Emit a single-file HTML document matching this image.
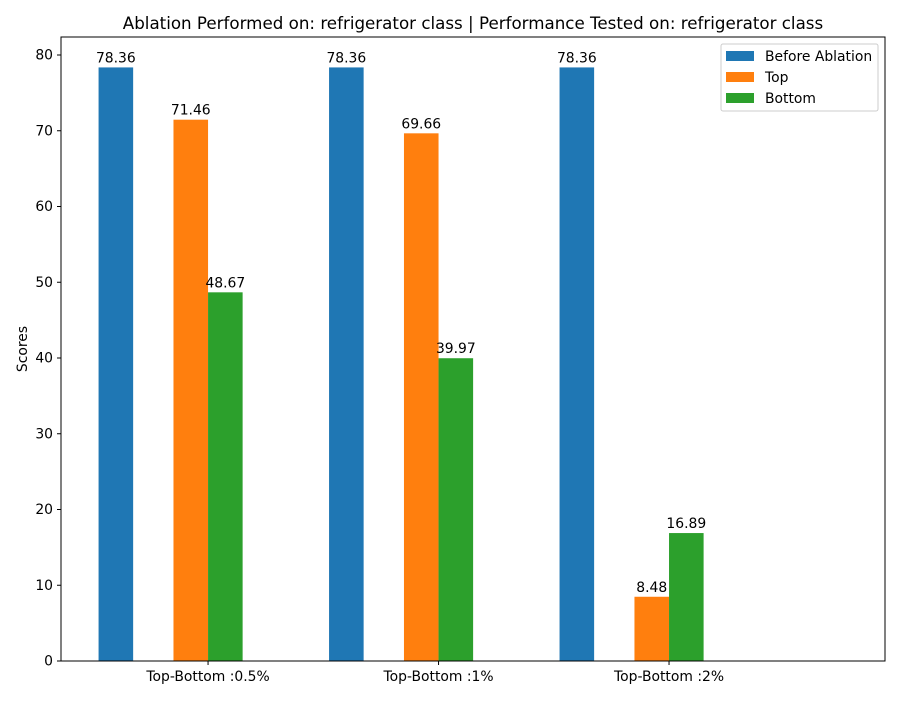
<!DOCTYPE html>
<html><head><meta charset="utf-8"><style>
body{margin:0;background:#fff}
svg text{font-family:"DejaVu Sans","Liberation Sans",sans-serif;fill:#000}
</style></head><body>
<svg id="chart" width="900" height="700" xmlns="http://www.w3.org/2000/svg">
<rect width="900" height="700" fill="#fff"/>
<text x="473" y="29" font-size="16.7" text-anchor="middle">Ablation Performed on: refrigerator class | Performance Tested on: refrigerator class</text>
<g id="bars"></g>
<g id="axes"></g>
<text transform="translate(27,349) rotate(-90)" font-size="13.9" text-anchor="middle">Scores</text>
<g>
<rect x="721" y="44" width="157" height="67" fill="#fff" stroke="#ccc" rx="2"/>
<rect x="726" y="51" width="28" height="10" fill="#1f77b4"/>
<text x="765" y="61" font-size="13.9">Before Ablation</text>
<rect x="726" y="72" width="28" height="10" fill="#ff7f0e"/>
<text x="765" y="82" font-size="13.9">Top</text>
<rect x="726" y="93" width="28" height="10" fill="#2ca02c"/>
<text x="765" y="103" font-size="13.9">Bottom</text>
</g>
</svg>
<script>
const categories = ["Top-Bottom :0.5%","Top-Bottom :1%","Top-Bottom :2%"];
const beforeValues = [78.36,78.36,78.36];
const topValues = [71.46,69.66,8.48];
const bottomValues = [48.67,39.97,16.89];
const yTicks = [0,10,20,30,40,50,60,70,80];

const L=61,R=885,T=37,B=661;
const xMin=-0.638,xMax=2.937,yMin=0,yMax=80;
const X=v=>L+(v-xMin)/(xMax-xMin)*(R-L);
const Y=v=>B-(v-yMin)/(yMax-yMin)*(B-55);
const bw=0.15;
const NS="http://www.w3.org/2000/svg";
const bars=document.getElementById('bars'), axes=document.getElementById('axes');
function mk(tag,attrs,parent){const e=document.createElementNS(NS,tag);for(const k in attrs)e.setAttribute(k,attrs[k]);parent.appendChild(e);return e;}
const series=[[beforeValues,"#1f77b4",-0.4,"before"],[topValues,"#ff7f0e",-0.075,"top"],[bottomValues,"#2ca02c",0.075,"bottom"]];
series.forEach(([vals,col,off,nm])=>{
  vals.forEach((v,i)=>{
    const x0=X(i+off-bw/2),x1=X(i+off+bw/2);
    const r=mk('rect',{x:x0,y:Y(v),width:x1-x0,height:Y(0)-Y(v),fill:col},bars);
    
    
    const t=mk('text',{x:(x0+x1)/2,y:Y(v)-5,'font-size':13.9,'text-anchor':'middle'},bars);
    t.textContent=v.toFixed(2);
    
    
  });
});
const frame=mk('rect',{x:L,y:T,width:R-L,height:B-T,fill:'none',stroke:'#000','stroke-width':1},axes);


yTicks.forEach(v=>{
  const y=Y(v);
  const l=mk('line',{x1:L-4,x2:L,y1:y,y2:y,stroke:'#000'},axes);
  
  
  const t=mk('text',{x:L-8,y:y+4.5,'font-size':13.9,'text-anchor':'end'},axes);
  t.textContent=v;
  
  
});
categories.forEach((c,i)=>{
  const x=X(i);
  const l=mk('line',{x1:x,x2:x,y1:B,y2:B+4,stroke:'#000'},axes);
  
  
  const t=mk('text',{x:x,y:B+20,'font-size':13.9,'text-anchor':'middle'},axes);
  t.textContent=c;
  
  
});
</script>
</body></html>
